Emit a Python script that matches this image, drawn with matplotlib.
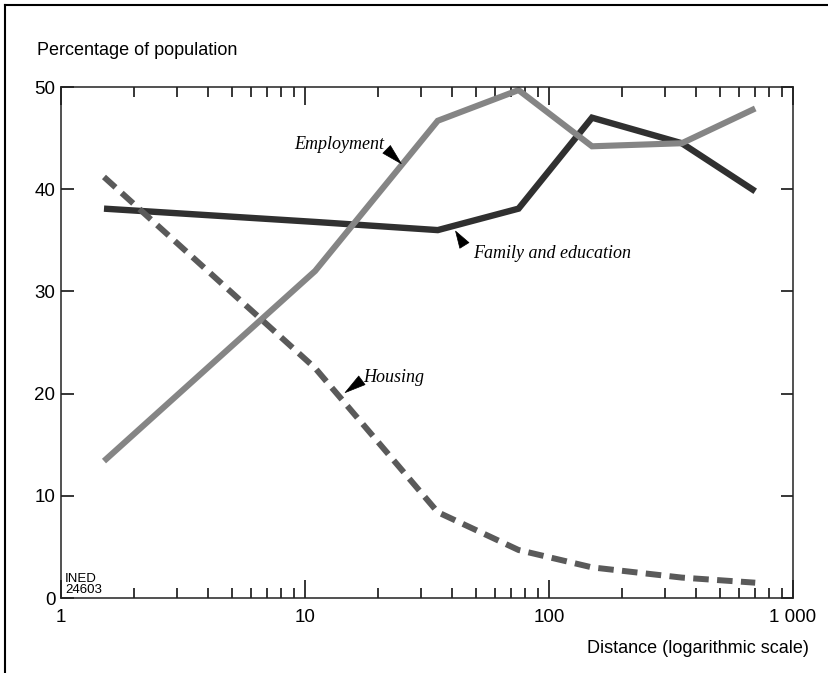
import matplotlib.pyplot as plt
from matplotlib.lines import Line2D
from matplotlib.ticker import FixedLocator, LogLocator, NullFormatter

# distance classes (km) and share of movers by reason
distance = [1.5, 11, 35, 75, 150, 350, 700]
family_education = [38.1, 36.8, 36.0, 38.1, 47.0, 44.5, 39.8]
employment = [13.4, 32.0, 46.7, 49.7, 44.2, 44.5, 47.9]
housing = [41.2, 22.5, 8.4, 4.7, 3.0, 2.0, 1.5]

x_ticks = [1, 10, 100, 1000]
x_labels = ["1", "10", "100", "1 000"]
y_ticks = [0, 10, 20, 30, 40, 50]

plt.rcParams["font.family"] = ["Liberation Sans", "DejaVu Sans"]

fig = plt.figure(figsize=(8.29, 6.73), dpi=100)
ax = fig.add_axes([0.0736, 0.1114, 0.8830, 0.7593])

ax.plot(distance, family_education, color="#303030", lw=4.6,
        solid_joinstyle="miter", solid_capstyle="butt")
ax.plot(distance, employment, color="#858585", lw=4.4,
        solid_joinstyle="miter", solid_capstyle="butt")
ax.plot(distance, housing, color="#5a5a5a", lw=4.3,
        linestyle=(0, (2.6, 1.4)), dash_capstyle="butt")

ax.set_xscale("log")
ax.set_xlim(1, 1000)
ax.set_ylim(0, 50)

ax.xaxis.set_major_locator(FixedLocator(x_ticks))
ax.set_xticklabels(x_labels)
ax.xaxis.set_minor_locator(LogLocator(base=10, subs=range(2, 10)))
ax.xaxis.set_minor_formatter(NullFormatter())
ax.set_yticks(y_ticks)

ax.tick_params(axis="x", which="major", direction="in", top=True,
               length=13, width=1.1, labelsize=13.5, pad=8)
ax.tick_params(axis="x", which="minor", direction="in", top=True,
               length=7, width=1.1)
ax.tick_params(axis="y", direction="in", right=True,
               length=9, width=1.1, labelsize=13.5, pad=4)
for sp in ax.spines.values():
    sp.set_linewidth(1.1)
    sp.set_color("#222222")

fig.text(0.045, 0.925, "Percentage of population", fontsize=13, va="center", ha="left")
fig.text(0.976, 0.037, "Distance (logarithmic scale)", fontsize=13, va="center", ha="right")

ax.text(1.04, 0.15, "INED\n24603", fontsize=9.5, va="bottom", ha="left",
        linespacing=0.9, fontstretch="condensed")

note_font = dict(family=["Liberation Serif", "DejaVu Serif"], style="italic", fontsize=13)
# solid black pointers from each label to its curve
wedge = dict(arrowstyle="wedge,tail_width=0.55,shrink_factor=0.5", color="black",
             lw=0.5, mutation_scale=14, shrinkA=0, shrinkB=0)

ax.annotate("", xy=(24.8, 42.5), xytext=(21.6, 43.9), arrowprops=wedge)
ax.text(21.1, 44.4, "Employment", ha="right", va="center", **note_font)

ax.annotate("", xy=(41.4, 35.9), xytext=(45.0, 34.5), arrowprops=wedge)
ax.text(48.8, 33.7, "Family and education", ha="left", va="center", **note_font)

ax.annotate("", xy=(14.6, 20.1), xytext=(17.1, 21.3), arrowprops=wedge)
ax.text(17.3, 21.6, "Housing", ha="left", va="center", **note_font)

# frame lines on the left and top edges of the page
fig.add_artist(Line2D([0.006, 0.006], [0, 0.993], transform=fig.transFigure,
                      color="black", lw=1.5))
fig.add_artist(Line2D([0.006, 1.0], [0.993, 0.993], transform=fig.transFigure,
                      color="black", lw=1.5))

fig.savefig("out.png", dpi=100)
